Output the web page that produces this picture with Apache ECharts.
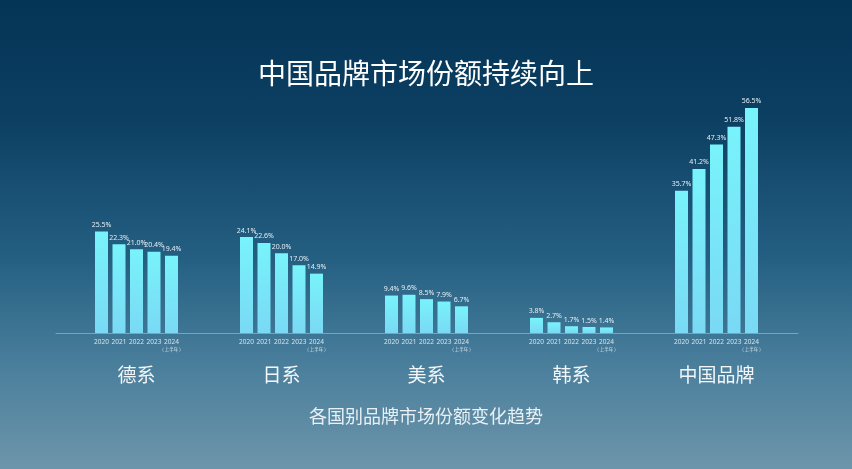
<!DOCTYPE html>
<html>
<head>
<meta charset="utf-8">
<script src="https://cdn.jsdelivr.net/npm/echarts@6/dist/echarts.min.js"></script>
<style>
html,body{margin:0;padding:0;width:852px;height:469px;overflow:hidden;}
#c{width:852px;height:469px;background:linear-gradient(180deg,#043456 0%,#0c3f62 25%,#245f82 55%,#4a7f9c 78%,#6d95aa 100%);}
</style>
</head>
<body>
<div id="c"></div>
<script>
var years = ['2020','2021','2022','2023','2024'];
var groups = ['德系','日系','美系','韩系','中国品牌'];
var german = [25.5, 22.3, 21.0, 20.4, 19.4];
var japanese = [24.1, 22.6, 20.0, 17.0, 14.9];
var american = [9.4, 9.6, 8.5, 7.9, 6.7];
var korean = [3.8, 2.7, 1.7, 1.5, 1.4];
var chinese = [35.7, 41.2, 47.3, 51.8, 56.5];
var groupValues = [german, japanese, american, korean, chinese];

var centers = [136.5, 281.5, 426.5, 571.5, 716.5];
var gw = 87.5;
var chart = echarts.init(document.getElementById('c'), null, {renderer:'canvas'});
var grids = [], xAxes = [], yAxes = [], series = [];
groups.forEach(function(g, i){
  grids.push({left: centers[i]-gw/2, width: gw, top: 94, bottom: 136, containLabel:false});
  xAxes.push({
    type:'category', gridIndex:i, data: years,
    axisLine:{show:false}, axisTick:{show:false},
    axisLabel:{
      color:'#d6e4ec', fontSize:6.5, margin:6, interval:0,
      fontFamily:'Noto Sans',
      formatter:function(v){ return v==='2024' ? v+'\n{s|( 上半年 )}' : v; },
      rich:{s:{fontSize:4.5,color:'#d6e4ec',lineHeight:7,fontFamily:'Noto Sans CJK SC'}}
    },
    name: g, nameLocation:'middle', nameGap:32,
    nameTextStyle:{color:'#f2f6f9', fontSize:19, fontFamily:'Noto Sans CJK SC'}
  });
  yAxes.push({type:'value', gridIndex:i, min:0, max:60, show:false, splitLine:{show:false}});
  series.push({
    type:'bar', xAxisIndex:i, yAxisIndex:i, data: groupValues[i], barWidth:13,
    itemStyle:{color:new echarts.graphic.LinearGradient(0,0,0,1,[{offset:0,color:'#78f3fb'},{offset:1,color:'#7ad9f4'}])},
    label:{show:true, position:'top', distance:3, fontSize:7, color:'#e3eef4', fontFamily:'Noto Sans',
      formatter:function(p){ return p.value.toFixed(1)+'%'; }}
  });
});
grids.push({left:56, right:54, top:94, bottom:136});
xAxes.push({type:'category', gridIndex:5, data:[''], axisLine:{show:true, lineStyle:{color:'rgba(200,220,235,0.45)', width:1}}, axisTick:{show:false}, axisLabel:{show:false}});
yAxes.push({type:'value', gridIndex:5, show:false, splitLine:{show:false}});

chart.setOption({
  animation:false,
  title:[
    {text:'中国品牌市场份额持续向上', left:'center', top:54,
     textStyle:{color:'#ffffff', fontSize:28, fontWeight:'normal', fontFamily:'Noto Sans CJK SC'}},
    {text:'各国别品牌市场份额变化趋势', left:'center', top:402,
     textStyle:{color:'#e8f0f5', fontSize:18, fontWeight:'normal', fontFamily:'Noto Sans CJK SC'}}
  ],
  grid:grids, xAxis:xAxes, yAxis:yAxes, series:series
});
</script>
</body>
</html>
